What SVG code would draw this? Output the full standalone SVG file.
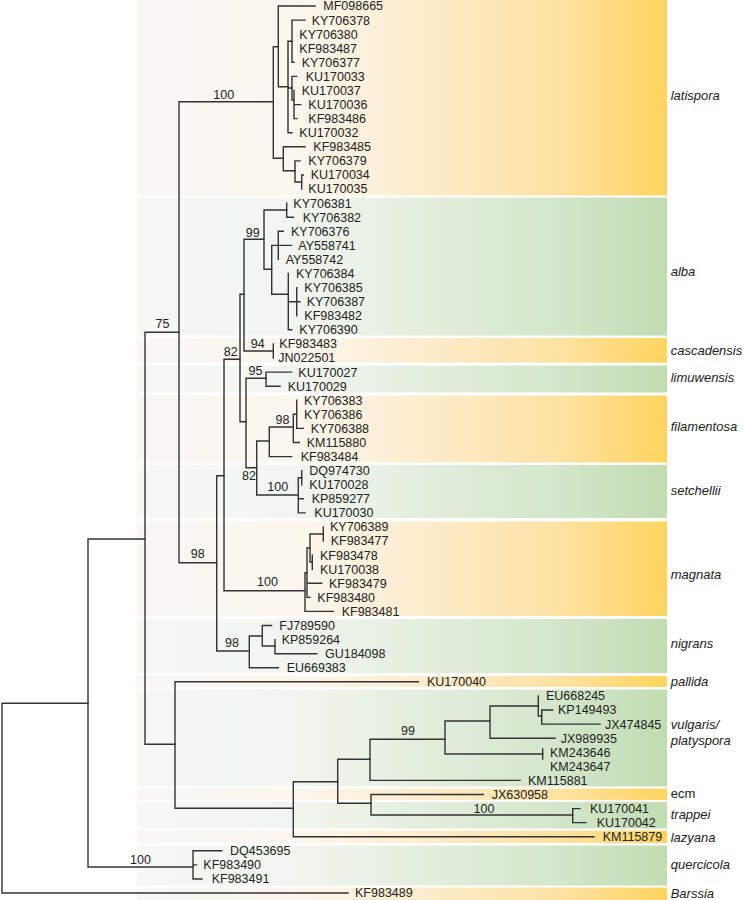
<svg xmlns="http://www.w3.org/2000/svg" width="744" height="900" viewBox="0 0 744 900">
<defs>
<linearGradient id="gO" x1="0" y1="0" x2="1" y2="0">
<stop offset="0" stop-color="#f8f7f5"/><stop offset="0.3" stop-color="#fbf6ee"/><stop offset="0.55" stop-color="#fdeccb"/><stop offset="0.8" stop-color="#fee2a2"/><stop offset="1" stop-color="#ffd45f"/>
</linearGradient>
<linearGradient id="gG" x1="0" y1="0" x2="1" y2="0">
<stop offset="0" stop-color="#f7f7f6"/><stop offset="0.3" stop-color="#f2f5ef"/><stop offset="0.55" stop-color="#e3eedd"/><stop offset="0.8" stop-color="#d3e6ca"/><stop offset="1" stop-color="#c2dcb2"/>
</linearGradient>
<style>
.o{fill:url(#gO)}
.g{fill:url(#gG)}
.cl{font-family:"Liberation Sans",Arial,sans-serif;font-size:13px;font-style:italic;fill:#222}
.cn{font-family:"Liberation Sans",Arial,sans-serif;font-size:13px;fill:#222}
.t{font-family:"Liberation Sans",Arial,sans-serif;font-size:12.5px;fill:#222}
.b{font-family:"Liberation Sans",Arial,sans-serif;font-size:12.5px;fill:#222;text-anchor:middle}
.br{fill:none;stroke:#333;stroke-width:1.4;stroke-linecap:square}
</style>
</defs>
<rect width="744" height="900" fill="#fff"/>
<g id="clades">
<g id="clade-latispora"><rect class="o" x="137" y="0" width="530" height="195.5"/><text class="cl" x="670.7" y="99.5">latispora</text></g>
<g id="clade-alba"><rect class="g" x="137" y="197.5" width="530" height="138"/><text class="cl" x="670.7" y="276.2">alba</text></g>
<g id="clade-cascadensis"><rect class="o" x="137" y="338" width="530" height="24.7"/><text class="cl" x="670.7" y="354.5">cascadensis</text></g>
<g id="clade-limuwensis"><rect class="g" x="137" y="365.5" width="530" height="27"/><text class="cl" x="670.7" y="382.2">limuwensis</text></g>
<g id="clade-filamentosa"><rect class="o" x="137" y="395.5" width="530" height="67"/><text class="cl" x="670.7" y="430.5">filamentosa</text></g>
<g id="clade-setchellii"><rect class="g" x="137" y="465" width="530" height="53"/><text class="cl" x="670.7" y="495.2">setchellii</text></g>
<g id="clade-magnata"><rect class="o" x="137" y="521.5" width="530" height="94.5"/><text class="cl" x="670.7" y="578.5">magnata</text></g>
<g id="clade-nigrans"><rect class="g" x="137" y="619" width="530" height="54"/><text class="cl" x="670.7" y="647.5">nigrans</text></g>
<g id="clade-pallida"><rect class="o" x="137" y="676" width="530" height="11"/><text class="cl" x="670.7" y="685.5">pallida</text></g>
<g id="clade-vulgaris"><rect class="g" x="137" y="689.5" width="530" height="97"/><text class="cl" x="670.7" y="728.8">vulgaris/</text><text class="cl" x="670.7" y="745.2">platyspora</text></g>
<g id="clade-ecm"><rect class="o" x="137" y="788.5" width="530" height="11.5"/><text class="cn" x="670.7" y="797.8">ecm</text></g>
<g id="clade-trappei"><rect class="g" x="137" y="802" width="530" height="26.5"/><text class="cl" x="670.7" y="818.5">trappei</text></g>
<g id="clade-lazyana"><rect class="o" x="137" y="830.5" width="530" height="12.5"/><text class="cl" x="670.7" y="841.8">lazyana</text></g>
<g id="clade-quercicola"><rect class="g" x="137" y="845.5" width="530" height="40"/><text class="cl" x="670.7" y="868.8">quercicola</text></g>
<g id="clade-Barssia"><rect class="o" x="137" y="887.5" width="530" height="12.5"/><text class="cl" x="670.7" y="897.8">Barssia</text></g>
</g>
<g id="connectors" class="br">
<path d="M2 703.3V893M2 703.3H88M2 893H348"/>
<path d="M88 539V867M88 539H145M88 867H193"/>
<path d="M193 850.8V879M193 850.8H221.7M193 864.9H196.5M193 879H202"/>
<path d="M145 332.3V744.3M145 332.3H179M145 744.3H175"/>
<path d="M179 101.7V562.7M179 101.7H273.3M179 562.7H216.7"/>
<path d="M216.7 475.7V651M216.7 475.7H224M216.7 651H249.3"/>
<path d="M224 359.3V590.7M224 359.3H240M224 590.7H305"/>
<path d="M240 294.3V421.7M240 294.3H244M240 421.7H246"/>
<path d="M244 239.3V351M244 239.3H264M244 351H273.3"/>
<path d="M273.3 343.9V358"/>
<path d="M264 210V269.3M264 210H286.7M264 269.3H271.7"/>
<path d="M286.7 203.1V217.2M286.7 217.2H293.3"/>
<path d="M271.7 245.4V294.3M271.7 245.4H291.7M271.7 294.3H288.3"/>
<path d="M278.3 231.3V259.4M278.3 231.3H283.3"/>
<path d="M288.3 273.5V329.8M288.3 301.7H300M288.3 329.8H291.7"/>
<path d="M296.7 287.6V315.8"/>
<path d="M246 378.3V467.7M246 378.3H266M246 467.7H256.7"/>
<path d="M266 372.1V386.2M266 372.1H291.7M266 386.2H280"/>
<path d="M256.7 441V495M256.7 441H269.3M256.7 495H298.3"/>
<path d="M269.3 427V456.6M269.3 427H293.3M269.3 456.6H291.7"/>
<path d="M293.3 414.3V442.5M293.3 414.3H296.7M293.3 442.5H299.3"/>
<path d="M296.7 400.2V428.4M296.7 428.4H303.3"/>
<path d="M298.3 477.7V512.9M298.3 477.7H301.7M298.3 498.8H303.3M298.3 512.9H305"/>
<path d="M301.7 470.6V484.7"/>
<path d="M305 572.7V611.4M305 572.7H307M305 611.4H333.3"/>
<path d="M307 548V597.4M307 548H310M307 583.3H321.7M307 597.4H310"/>
<path d="M310 534V562M310 534H323.3M310 562H312.3"/>
<path d="M323.3 527V541"/>
<path d="M312.3 555.1V569.2"/>
<path d="M249.3 636V667.8M249.3 636H262.3M249.3 667.8H278.3"/>
<path d="M262.3 625.5V646M262.3 625.5H271.7M262.3 646H275"/>
<path d="M275 639.6V653.7M275 653.7H316.7"/>
<path d="M175 681.8V808.3M175 681.8H418.3M175 808.3H293.3"/>
<path d="M293.3 781.7V836.7M293.3 781.7H337.7M293.3 836.7H594"/>
<path d="M337.7 759.3V803.3M337.7 759.3H370M337.7 803.3H371"/>
<path d="M370 739.3V780.4M370 739.3H445M370 780.4H520"/>
<path d="M445 721V754M445 721H490M445 754H542.7"/>
<path d="M490 706V738.2M490 706H538.3M490 738.2H555"/>
<path d="M538.3 695.9V716M538.3 716H541.7"/>
<path d="M541.7 710V724.1M541.7 710H552.7M541.7 724.1H600"/>
<path d="M542.7 749V759"/>
<path d="M371 794.5V815M371 794.5H483.3M371 815H572.7"/>
<path d="M572.7 808.6V822.6M572.7 808.6H580M572.7 822.6H586"/>
<path d="M273.3 46.7V158.3M273.3 46.7H278.3M273.3 158.3H283.3"/>
<path d="M278.3 6V86.7M278.3 6H315M278.3 86.7H288"/>
<path d="M288 41.2V132.7M288 41.2H292M288 88H292M288 132.7H292"/>
<path d="M292 20.1V62.3M292 20.1H305M292 62.3H294"/>
<path d="M292 76.4V100M292 76.4H296.7M292 100H294"/>
<path d="M294 90.5V118.6M294 104.6H300.7M294 118.6H297"/>
<path d="M283.3 146.8V170.7M283.3 146.8H305M283.3 170.7H295"/>
<path d="M295 160.9V182M295 160.9H300M295 182H301.7"/>
<path d="M301.7 175V189M301.7 175H303.3"/>
</g>
<g id="support">
<text class="b" x="223.8" y="99.4">100</text>
<text class="b" x="162.5" y="328.4">75</text>
<text class="b" x="197.8" y="558.4">98</text>
<text class="b" x="230.8" y="356.1">82</text>
<text class="b" x="252.7" y="237.1">99</text>
<text class="b" x="257.7" y="347.7">94</text>
<text class="b" x="255.5" y="375.4">95</text>
<text class="b" x="282.5" y="424.4">98</text>
<text class="b" x="249" y="480.1">82</text>
<text class="b" x="277.7" y="491.1">100</text>
<text class="b" x="267.5" y="586.1">100</text>
<text class="b" x="232" y="647.4">98</text>
<text class="b" x="408" y="735.4">99</text>
<text class="b" x="484" y="812.7">100</text>
<text class="b" x="140.5" y="863.7">100</text>
</g>
<g id="leaves" class="t">
<g id="leaf-MF098665"><text x="323.3" y="10.4">MF098665</text></g>
<g id="leaf-KY706378"><text x="311.7" y="24.5">KY706378</text></g>
<g id="leaf-KY706380"><text x="299.3" y="38.6">KY706380</text></g>
<g id="leaf-KF983487"><text x="299.3" y="52.6">KF983487</text></g>
<g id="leaf-KY706377"><text x="301.7" y="66.7">KY706377</text></g>
<g id="leaf-KU170033"><text x="305.7" y="80.8">KU170033</text></g>
<g id="leaf-KU170037"><text x="301.7" y="94.9">KU170037</text></g>
<g id="leaf-KU170036"><text x="308.3" y="109">KU170036</text></g>
<g id="leaf-KF983486"><text x="308.3" y="123">KF983486</text></g>
<g id="leaf-KU170032"><text x="299.3" y="137.1">KU170032</text></g>
<g id="leaf-KF983485"><text x="313.3" y="151.2">KF983485</text></g>
<g id="leaf-KY706379"><text x="308.3" y="165.3">KY706379</text></g>
<g id="leaf-KU170034"><text x="310.7" y="179.4">KU170034</text></g>
<g id="leaf-KU170035"><text x="308.3" y="193.4">KU170035</text></g>
<g id="leaf-KY706381"><text x="293.3" y="207.5">KY706381</text></g>
<g id="leaf-KY706382"><text x="302.7" y="221.6">KY706382</text></g>
<g id="leaf-KY706376"><text x="291" y="235.7">KY706376</text></g>
<g id="leaf-AY558741"><text x="298.3" y="249.8">AY558741</text></g>
<g id="leaf-AY558742"><text x="285.7" y="263.8">AY558742</text></g>
<g id="leaf-KY706384"><text x="296" y="277.9">KY706384</text></g>
<g id="leaf-KY706385"><text x="304.3" y="292">KY706385</text></g>
<g id="leaf-KY706387"><text x="306.7" y="306.1">KY706387</text></g>
<g id="leaf-KF983482"><text x="304.3" y="320.2">KF983482</text></g>
<g id="leaf-KY706390"><text x="299.3" y="334.2">KY706390</text></g>
<g id="leaf-KF983483"><text x="279.3" y="348.3">KF983483</text></g>
<g id="leaf-JN022501"><text x="278.3" y="362.4">JN022501</text></g>
<g id="leaf-KU170027"><text x="298.3" y="376.5">KU170027</text></g>
<g id="leaf-KU170029"><text x="287.7" y="390.6">KU170029</text></g>
<g id="leaf-KY706383"><text x="304" y="404.6">KY706383</text></g>
<g id="leaf-KY706386"><text x="304" y="418.7">KY706386</text></g>
<g id="leaf-KY706388"><text x="310.7" y="432.8">KY706388</text></g>
<g id="leaf-KM115880"><text x="306.7" y="446.9">KM115880</text></g>
<g id="leaf-KF983484"><text x="300.7" y="461">KF983484</text></g>
<g id="leaf-DQ974730"><text x="309.3" y="475">DQ974730</text></g>
<g id="leaf-KU170028"><text x="309.3" y="489.1">KU170028</text></g>
<g id="leaf-KP859277"><text x="311.7" y="503.2">KP859277</text></g>
<g id="leaf-KU170030"><text x="314.3" y="517.3">KU170030</text></g>
<g id="leaf-KY706389"><text x="330" y="531.4">KY706389</text></g>
<g id="leaf-KF983477"><text x="330.7" y="545.4">KF983477</text></g>
<g id="leaf-KF983478"><text x="320" y="559.5">KF983478</text></g>
<g id="leaf-KU170038"><text x="320" y="573.6">KU170038</text></g>
<g id="leaf-KF983479"><text x="329" y="587.7">KF983479</text></g>
<g id="leaf-KF983480"><text x="317.3" y="601.8">KF983480</text></g>
<g id="leaf-KF983481"><text x="341.7" y="615.8">KF983481</text></g>
<g id="leaf-FJ789590"><text x="279.3" y="629.9">FJ789590</text></g>
<g id="leaf-KP859264"><text x="281.7" y="644">KP859264</text></g>
<g id="leaf-GU184098"><text x="325" y="658.1">GU184098</text></g>
<g id="leaf-EU669383"><text x="286.7" y="672.2">EU669383</text></g>
<g id="leaf-KU170040"><text x="427" y="686.2">KU170040</text></g>
<g id="leaf-EU668245"><text x="546" y="700.3">EU668245</text></g>
<g id="leaf-KP149493"><text x="558" y="714.4">KP149493</text></g>
<g id="leaf-JX474845"><text x="605" y="728.5">JX474845</text></g>
<g id="leaf-JX989935"><text x="560.7" y="742.6">JX989935</text></g>
<g id="leaf-KM243646"><text x="550" y="756.6">KM243646</text></g>
<g id="leaf-KM243647"><text x="550" y="770.7">KM243647</text></g>
<g id="leaf-KM115881"><text x="528" y="784.8">KM115881</text></g>
<g id="leaf-JX630958"><text x="491.7" y="798.9">JX630958</text></g>
<g id="leaf-KU170041"><text x="590" y="813">KU170041</text></g>
<g id="leaf-KU170042"><text x="596.7" y="827">KU170042</text></g>
<g id="leaf-KM115879"><text x="602.7" y="841.1">KM115879</text></g>
<g id="leaf-DQ453695"><text x="230" y="855.2">DQ453695</text></g>
<g id="leaf-KF983490"><text x="203.3" y="869.3">KF983490</text></g>
<g id="leaf-KF983491"><text x="211.7" y="883.4">KF983491</text></g>
<g id="leaf-KF983489"><text x="355" y="897.4">KF983489</text></g>
</g>
</svg>
